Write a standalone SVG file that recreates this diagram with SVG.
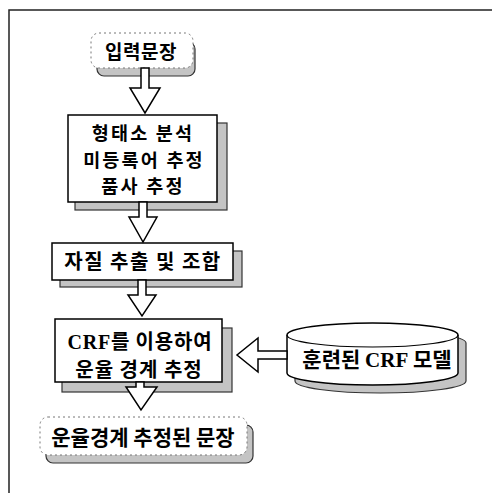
<svg xmlns="http://www.w3.org/2000/svg" width="492" height="493" viewBox="0 0 492 493">
<style>
.main{fill:#fff;stroke:#000;stroke-width:1.5}
.round{fill:#fff;stroke:#777;stroke-width:1;stroke-dasharray:2 3}
.shadow{fill:#c4c4c4;stroke:#333;stroke-width:1.2}
.arrow{fill:#fff;stroke:#000;stroke-width:1.5;stroke-linejoin:miter}
.t{font-family:"Noto Sans CJK KR","Noto Sans",sans-serif;font-weight:bold;font-size:20px;fill:#000;text-anchor:middle}
.crf{font-family:"Liberation Serif",serif;font-weight:bold}
.frame{stroke:#222;stroke-width:1.5;fill:none}
</style>
<rect width="492" height="493" fill="#fff"/>
<path class="frame" d="M9,493 V10 H492"/>

<g id="n1">
<rect class="shadow" x="97" y="42" width="98" height="34" rx="7"/>
<rect class="round" x="91" y="33" width="102" height="35" rx="8"/>
<text class="t" x="141" y="59" style="font-size:19px" letter-spacing="0.5">입력문장</text>
</g>

<g id="n2">
<rect class="shadow" x="75" y="123" width="152" height="87"/>
<rect class="main" x="68" y="115" width="149" height="87"/>
<text class="t" x="143" y="140" style="font-size:18.5px" letter-spacing="2.2">형태소 분석</text>
<text class="t" x="144" y="167" style="font-size:18.5px" letter-spacing="2.2">미등록어 추정</text>
<text class="t" x="143" y="193" style="font-size:18.5px" letter-spacing="2.2">품사 추정</text>
</g>

<g id="n3">
<rect class="shadow" x="60" y="251" width="182" height="36"/>
<rect class="main" x="52" y="243" width="181" height="37"/>
<text class="t" x="143" y="269" letter-spacing="1.5">자질 추출 및 조합</text>
</g>

<g id="n4">
<rect class="shadow" x="62" y="328" width="170" height="64"/>
<rect class="main" x="55" y="319" width="167" height="63"/>
<text class="t" x="140" y="349" style="font-size:20px" letter-spacing="0.8"><tspan class="crf">CRF</tspan>를 이용하여</text>
<text class="t" x="139" y="377" style="font-size:20px" letter-spacing="1">운율 경계 추정</text>
</g>

<g id="n5">
<rect class="shadow" x="46" y="425" width="207" height="38" rx="7"/>
<rect class="round" x="40" y="417" width="207" height="38" rx="8"/>
<text class="t" x="143" y="445" style="font-size:21px">운율경계 추정된 문장</text>
</g>

<g id="n6">
<path class="shadow" d="M295,343 A85.5,12 0 0 1 466,343 V381 A85.5,12 0 0 1 295,381 Z"/>
<path class="main" d="M287,335 A85.5,12 0 0 1 458,335 V373 A85.5,12 0 0 1 287,373 Z"/>
<path fill="none" stroke="#000" stroke-width="1.2" d="M287,335 A85.5,12 0 0 0 458,335"/>
<text class="t" x="377" y="367" style="font-size:21px">훈련된 <tspan class="crf">CRF</tspan> 모델</text>
</g>

<g id="connectors">
<polygon class="arrow" points="141,68 149,68 149,88 160,88 145,113 130,88 141,88"/>
<polygon class="arrow" points="139,202 147,202 147,217 157,217 143,242 129,217 139,217"/>
<polygon class="arrow" points="138,280 146,280 146,295 156,295 142,316 128,295 138,295"/>
<polygon class="arrow" points="136,382 144,382 144,387 157,387 141,410 126,387 136,387"/>
<polygon class="arrow" points="287,351 258,351 258,338 237,355 258,372 258,359 287,359"/>
</g>
</svg>
